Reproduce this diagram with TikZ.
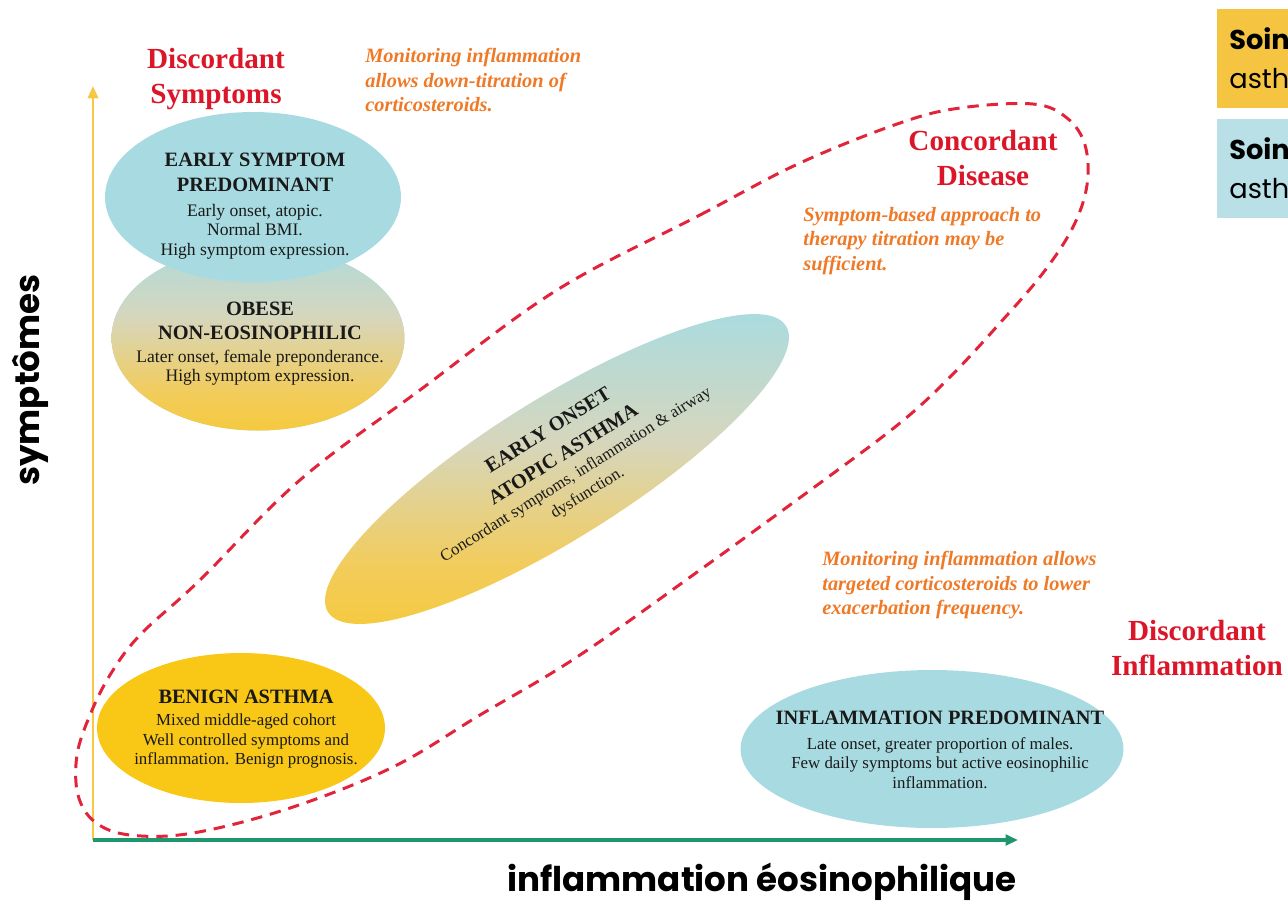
\documentclass[tikz,border=0pt]{standalone}
\usepackage{fontspec}
\setmainfont{Liberation Serif}
\newfontfamily\gothic{Poppins}
\usetikzlibrary{shapes.geometric,arrows.meta}
\definecolor{cyanE}{RGB}{168,219,225}
\definecolor{yelE}{RGB}{249,199,22}
\definecolor{boxY}{RGB}{245,197,66}
\definecolor{boxC}{RGB}{184,224,230}
\definecolor{redT}{RGB}{218,22,40}
\definecolor{orT}{RGB}{238,122,40}
\definecolor{dashR}{RGB}{226,36,58}
\definecolor{axY}{RGB}{247,200,70}
\definecolor{axG}{RGB}{30,150,110}
\definecolor{txt}{RGB}{25,25,25}
\pgfdeclareverticalshading{ellgrad}{100bp}{%
  rgb(0bp)=(0.976,0.78,0.09);
  rgb(14bp)=(0.976,0.78,0.09);
  rgb(36bp)=(0.95,0.80,0.36);
  rgb(54bp)=(0.84,0.84,0.74);
  rgb(74bp)=(0.66,0.86,0.88);
  rgb(100bp)=(0.66,0.86,0.88)}
\newcommand\hdf{\fontsize{11.6}{14}\selectfont\bfseries}
\newcommand\bdf{\fontsize{10}{11.2}\selectfont}
\newcommand\bds{\fontsize{9.6}{11.2}\selectfont}
\begin{document}
\begin{tikzpicture}[x=0.02cm,y=-0.02cm,
  blob/.style={ellipse, inner sep=0pt, draw=none},
  lbl/.style={align=center, text=txt, inner sep=0pt, font=\bdf},
  redtitle/.style={align=center, text=redT, inner sep=0pt, font=\fontsize{16.6}{19.8}\selectfont\bfseries},
  note/.style={align=left, text=orT, inner sep=0pt, anchor=north west, font=\fontsize{11.6}{13.9}\selectfont\bfseries\itshape},
  axlbl/.style={text=black, inner sep=0pt, font=\gothic\fontsize{19.4}{23}\selectfont\bfseries},
  boxtxt/.style={text=black, inner sep=0pt, anchor=base west, font=\gothic\fontsize{15.5}{18}\selectfont},
  dashloop/.style={draw=dashR, line width=1.7pt, dash pattern=on 6.5pt off 4.5pt},
  axarrow/.style={-{Triangle[length=7pt,width=6pt]}},
]
\useasboundingbox (0,0) rectangle (1288,914);
\clip (0,0) rectangle (1288,914);

% legend boxes (cut by the right edge)
\node[fill=boxY, anchor=north west, minimum width=1.8cm, minimum height=1.98cm, inner sep=0pt] (box1) at (1217,9) {};
\node[fill=boxC, anchor=north west, minimum width=1.8cm, minimum height=1.98cm, inner sep=0pt] (box2) at (1217,119) {};
\node[boxtxt, font=\gothic\fontsize{15.5}{18}\selectfont\bfseries] (b1a) at (1229,49) {Soin};
\node[boxtxt] (b1b) at (1229,88) {asth};
\node[boxtxt, font=\gothic\fontsize{15.5}{18}\selectfont\bfseries] (b2a) at (1229,159) {Soin};
\node[boxtxt] (b2b) at (1229,198) {asth};

% axes
\coordinate (O) at (93,840);
\coordinate (Ytip) at (93,86);
\coordinate (Xtip) at (1018,840);
\draw[axY, line width=1.3pt, axarrow] (O) -- (Ytip);
\draw[axG, line width=1.8pt, axarrow] (O) -- (Xtip);

% ellipses
\node[blob, fill=cyanE, minimum width=5.86cm, minimum height=3.7cm] (obe) at (258,338) {};
\begin{scope}
\clip (258,338) ellipse [x radius=146.5, y radius=92.5];
\shade[shading=ellgrad] (100,230) rectangle (420,438);
\end{scope}
\node[blob, fill=cyanE, minimum width=5.92cm, minimum height=3.4cm] (esp) at (253,197) {};
\node[blob, fill=yelE, minimum width=5.76cm, minimum height=3.0cm] (ben) at (241,728) {};
\node[blob, fill=cyanE, minimum width=7.66cm, minimum height=3.16cm] (infl) at (932,749) {};
\begin{scope}
\clip[rotate around={32:(557,469)}] (557,469) ellipse [x radius=270, y radius=70];
\shade[shading=ellgrad] (320,300) rectangle (800,640);
\end{scope}

% dashed loop
\draw[dashloop] plot[smooth cycle, tension=0.6] coordinates {
 (557,290) (700,215) (800,163) (900,123) (960,108) (1033,104) (1067,118)
 (1085,145) (1087,185) (1073,227) (1043,273) (1000,323) (950,377) (900,423)
 (820,483) (700,570) (577,657) (480,715) (393,767) (290,808) (193,833)
 (130,835) (95,822) (78,795) (77,755) (90,715) (110,675) (140,635)
 (200,580) (300,480) (420,390)};

% texts in ellipses
\node[lbl] (tEsp) at (255,206) {{\hdf EARLY SYMPTOM}\\[3pt]{\hdf PREDOMINANT}\\[3pt]Early onset, atopic.\\Normal BMI.\\High symptom expression.};
\node[lbl] (tObe) at (260,344) {{\hdf OBESE}\\[2.5pt]{\hdf NON-EOSINOPHILIC}\\[1.5pt]Later onset, female preponderance.\\High symptom expression.};
\node[lbl, font=\bds] (tBen) at (246,729) {{\hdf BENIGN ASTHMA}\\[1.5pt]Mixed middle-aged cohort\\Well controlled symptoms and\\inflammation. Benign prognosis.};
\node[lbl, font=\bds] (tInf) at (940,750) {{\hdf INFLAMMATION PREDOMINANT}\\[2.5pt]Late onset, greater proportion of males.\\Few daily symptoms but active eosinophilic\\inflammation.};
\node[lbl, rotate=32, font=\fontsize{9.5}{11.2}\selectfont] (mid) at (568,462) {{\hdf EARLY ONSET}\\[5pt]{\hdf ATOPIC ASTHMA}\\[1.5pt]Concordant symptoms, inflammation \& airway\\[1.2pt]dysfunction.};

% red titles
\node[redtitle] (dsym) at (216,79) {Discordant\\Symptoms};
\node[redtitle] (cdis) at (983,158) {Concordant\\Disease};
\node[redtitle] (dinf) at (1197,648) {Discordant\\Inflammation};

% orange notes
\node[note] (n1) at (365,48) {Monitoring inflammation\\allows down-titration of\\corticosteroids.};
\node[note] (n2) at (803,207) {Symptom-based approach to\\therapy titration may be\\sufficient.};
\node[note] (n3) at (822,551) {Monitoring inflammation allows\\targeted corticosteroids to lower\\exacerbation frequency.};

% axis labels
\node[axlbl] (xl) at (762,882) {inflammation éosinophilique};
\node[axlbl, rotate=90] (yl) at (30,380) {symptômes};
\end{tikzpicture}
\end{document}
